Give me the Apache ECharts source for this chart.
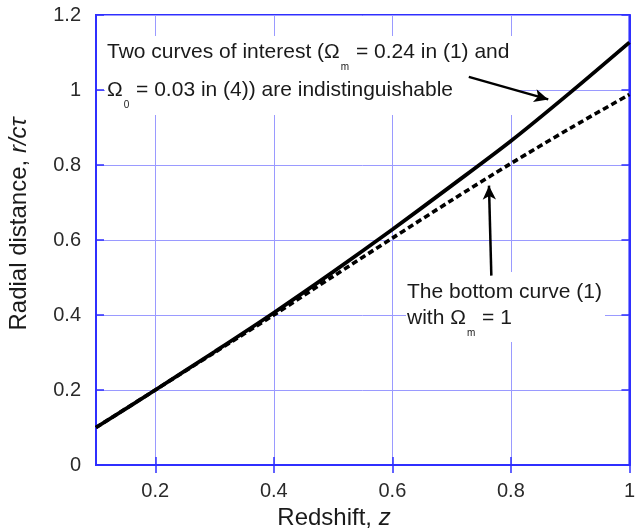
<!DOCTYPE html>
<html><head><meta charset="utf-8">
<script src="https://cdn.jsdelivr.net/npm/echarts@6/dist/echarts.min.js"></script>
<style>html,body{margin:0;padding:0;background:#fff}#c{width:638px;height:531px}</style>
</head><body><div id="c"></div>
<script>
var redshift = [0.1, 0.2, 0.3, 0.4, 0.5, 0.6, 0.7, 0.8, 0.9, 1.0];
var curveInterest = [0.1, 0.2, 0.302, 0.406, 0.515, 0.628, 0.745, 0.864, 0.993, 1.127];
var curveBottom = [0.1, 0.2, 0.3, 0.4, 0.503, 0.605, 0.706, 0.804, 0.898, 0.988];
var xTicks = [0.2, 0.4, 0.6, 0.8, 1];
var yTicks = [0, 0.2, 0.4, 0.6, 0.8, 1, 1.2];

function pairs(xs, ys){ return xs.map(function(x,i){ return [x, ys[i]]; }); }

var FONT = 'Liberation Sans, Arial, sans-serif';
var TXT = '#1a1a1a';
var BLUE = '#2f2fff';
var GRIDC = '#9a9aff';

var chart = echarts.init(document.getElementById('c'), null, {renderer:'canvas'});
var sub = {fontSize: 10, fontFamily: FONT, color: TXT, padding: [30,1,0,1]};
var option = {
  animation: false,
  backgroundColor: '#fff',
  grid: {left: 96, right: 5, top: 15, bottom: 66, show: true, borderColor: BLUE, borderWidth: 2, backgroundColor: 'transparent'},
  xAxis: [{
    type: 'value', min: 0.1, max: 1, position: 'bottom',
    axisLine: {show: true, lineStyle: {color: BLUE, width: 2}},
    axisTick: {show: true, inside: true, length: 8, customValues: xTicks, lineStyle: {color: BLUE, width: 1.5}},
    axisLabel: {customValues: xTicks, fontSize: 20, fontFamily: FONT, color: '#2a2a2a', margin: 16},
    splitLine: {show: true, lineStyle: {color: GRIDC, width: 1}}
  }, {
    type: 'value', min: 0.1, max: 1, position: 'top',
    axisLine: {show: true, lineStyle: {color: BLUE, width: 2}},
    axisTick: {show: true, inside: true, length: 8, customValues: xTicks, lineStyle: {color: BLUE, width: 1.5}},
    axisLabel: {show: false, customValues: xTicks},
    splitLine: {show: false}
  }],
  yAxis: [{
    type: 'value', min: 0, max: 1.2, interval: 0.2, position: 'left',
    axisLine: {show: true, lineStyle: {color: BLUE, width: 2}},
    axisTick: {show: true, inside: true, length: 8, lineStyle: {color: BLUE, width: 1.5}},
    axisLabel: {fontSize: 20, fontFamily: FONT, color: '#2a2a2a', margin: 15},
    splitLine: {show: true, lineStyle: {color: GRIDC, width: 1}}
  }, {
    type: 'value', min: 0, max: 1.2, interval: 0.2, position: 'right',
    axisLine: {show: true, lineStyle: {color: BLUE, width: 2}},
    axisTick: {show: true, inside: true, length: 8, lineStyle: {color: BLUE, width: 1.5}},
    axisLabel: {show: false},
    splitLine: {show: false}
  }],
  series: [{
    type: 'line', name: 'bottom', data: pairs(redshift, curveBottom), smooth: 0.3,
    showSymbol: false, symbol: 'none', z: 3,
    lineStyle: {color: '#000', width: 3.6, type: [6, 3.5]}
  }, {
    type: 'line', name: 'interest', data: pairs(redshift, curveInterest), smooth: 0.3,
    showSymbol: false, symbol: 'none', z: 4,
    lineStyle: {color: '#000', width: 3.8, type: 'solid'},
    markLine: {
      silent: true, symbol: ['none', 'arrow'], symbolSize: [10, 14], animation: false,
      label: {show: false},
      lineStyle: {color: '#000', width: 2.5, type: 'solid'},
      data: [
        [{coord: [0.729, 1.035]}, {coord: [0.863, 0.975]}],
        [{coord: [0.767, 0.505]}, {coord: [0.763, 0.745]}]
      ]
    }
  }],
  graphic: [
    {type: 'rect', z: 1, silent: true, shape: {x: 105, y: 36, width: 409, height: 79}, style: {fill: '#fff'}},
    {type: 'rect', z: 1, silent: true, shape: {x: 406, y: 272, width: 199, height: 70}, style: {fill: '#fff'}},
    {type: 'text', z: 5, silent: true, style: {x: 107, y: 52, text: 'Two curves of interest (\u03A9{s|m} = 0.24 in (1) and', verticalAlign: 'middle', align: 'left', fontSize: 21, fontFamily: FONT, fill: TXT, rich: {s: sub}}},
    {type: 'text', z: 5, silent: true, style: {x: 107, y: 90, text: '\u03A9{s|0} = 0.03 in (4)) are indistinguishable', verticalAlign: 'middle', align: 'left', fontSize: 21, fontFamily: FONT, fill: TXT, rich: {s: sub}}},
    {type: 'text', z: 5, silent: true, style: {x: 407, y: 292, text: 'The bottom curve (1)', verticalAlign: 'middle', align: 'left', fontSize: 21, fontFamily: FONT, fill: TXT}},
    {type: 'text', z: 5, silent: true, style: {x: 407, y: 318, text: 'with \u03A9{s|m} = 1', verticalAlign: 'middle', align: 'left', fontSize: 21, fontFamily: FONT, fill: TXT, rich: {s: sub}}},
    {type: 'text', z: 5, silent: true, style: {x: 334, y: 518, text: 'Redshift, {i|z}', verticalAlign: 'middle', align: 'center', fontSize: 24, fontFamily: FONT, fill: TXT, rich: {i: {fontSize: 24, fontStyle: 'italic', fontFamily: FONT, color: TXT}}}},
    {type: 'text', z: 5, silent: true, x: 19, y: 224, rotation: Math.PI / 2, style: {x: 0, y: 0, text: 'Radial distance, {i|r/c\u03C4}', verticalAlign: 'middle', align: 'center', fontSize: 24, fontFamily: FONT, fill: TXT, rich: {i: {fontSize: 24, fontStyle: 'italic', fontFamily: FONT, color: TXT}}}}
  ]
};
chart.setOption(option);
</script></body></html>
